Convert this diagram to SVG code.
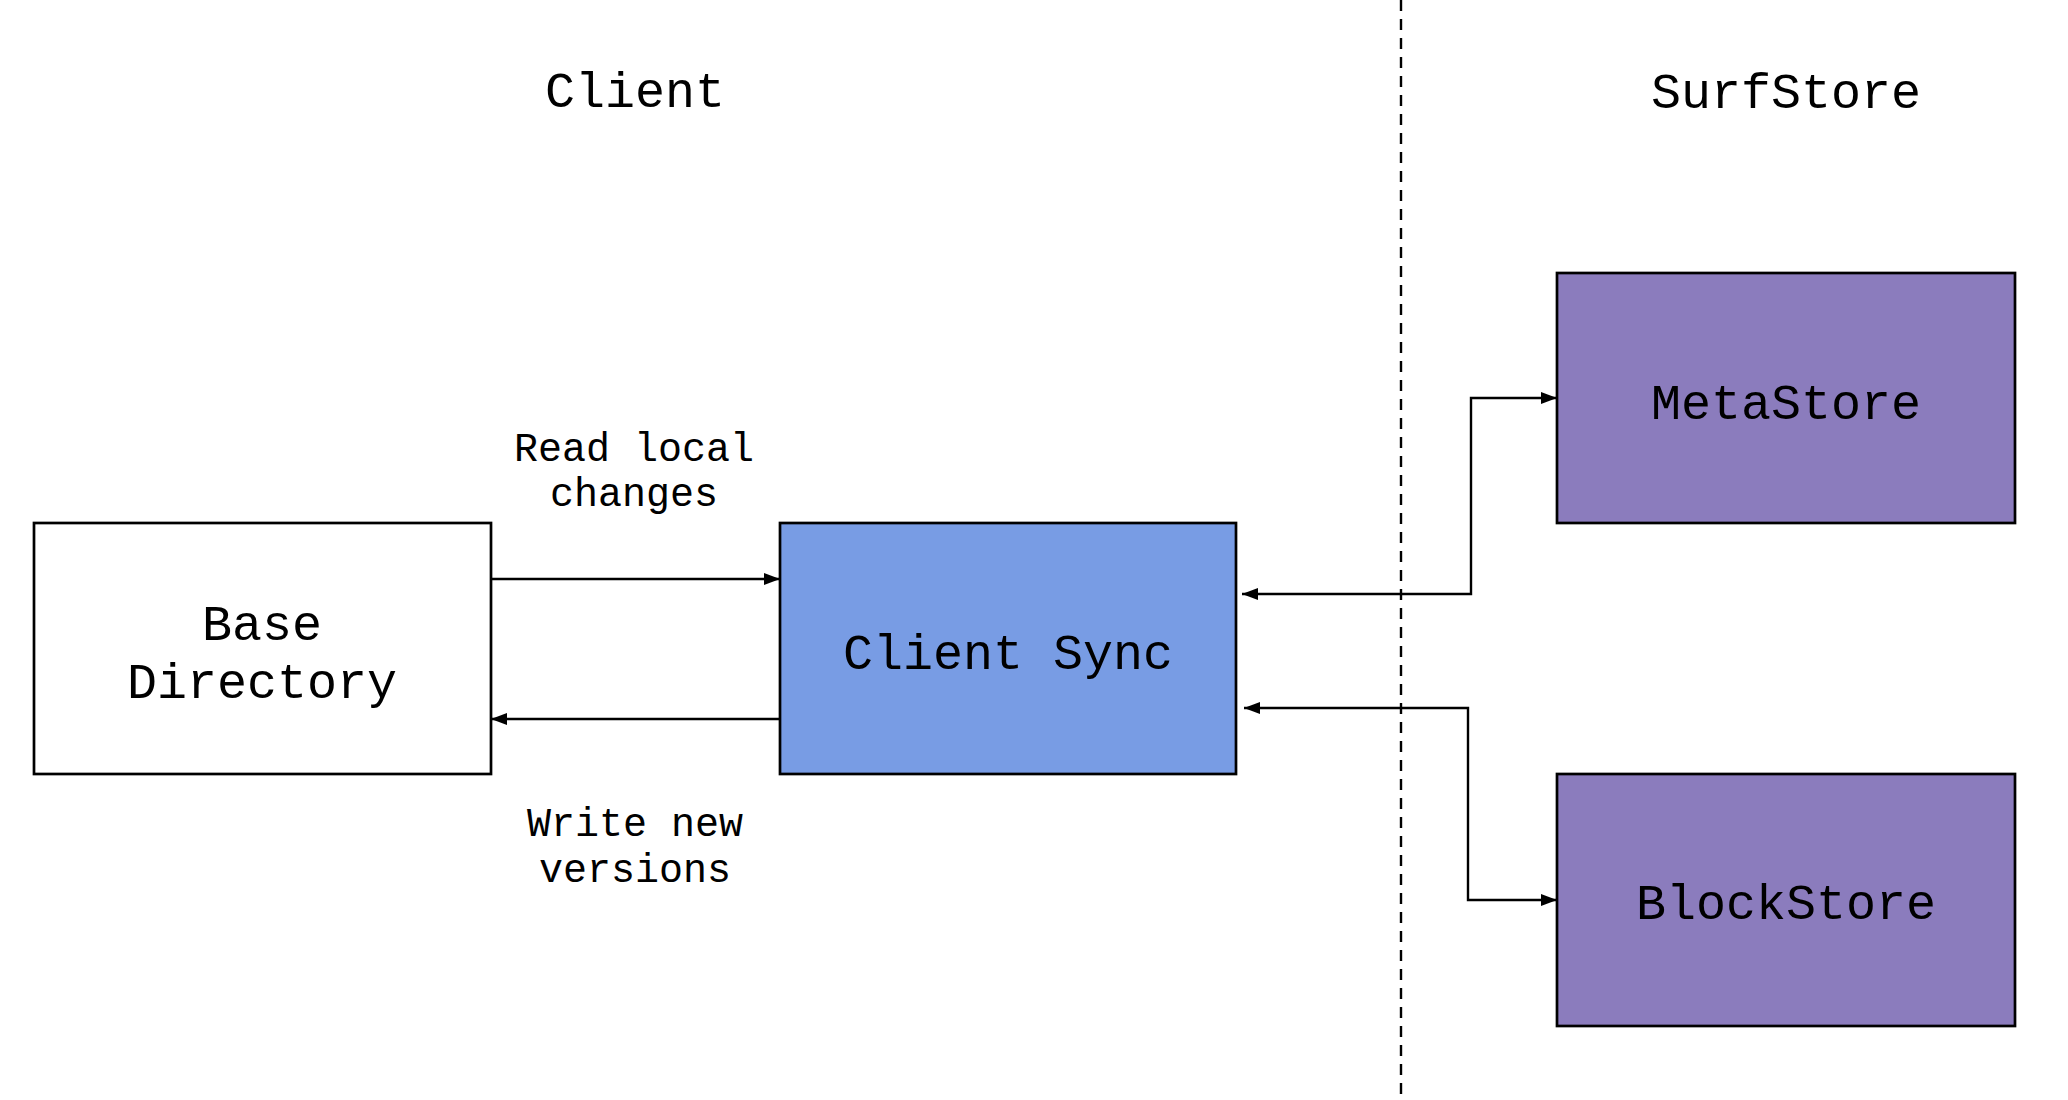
<svg xmlns="http://www.w3.org/2000/svg" width="2068" height="1100" viewBox="0 0 2068 1100">
  <style>
    .box { stroke: #000000; stroke-width: 2.7; }
    .t { font-family: "Liberation Mono", "Courier New", monospace; fill: #000000; text-anchor: middle; }
    .big { font-size: 50px; }
    .small { font-size: 40px; }
    .conn { fill: none; stroke: #000000; stroke-width: 2.4; }
  </style>
  <defs>
    <marker id="arrow" markerUnits="userSpaceOnUse" markerWidth="16" markerHeight="14" viewBox="0 0 16 14" refX="16" refY="7" orient="auto-start-reverse">
      <path d="M0,1 L16,7 L0,13 Z" fill="#000000"/>
    </marker>
  </defs>
  <rect x="0" y="0" width="2068" height="1100" fill="#ffffff"/>

  <g id="divider">
    <line x1="1401" y1="0" x2="1401" y2="1100" stroke="#000000" stroke-width="2.4" stroke-dasharray="11,8"/>
  </g>

  <g id="title-client">
    <text class="t big" x="635" y="107">Client</text>
  </g>
  <g id="title-surfstore">
    <text class="t big" x="1786" y="108">SurfStore</text>
  </g>

  <g id="base-directory">
    <rect class="box" x="34" y="523" width="457" height="251" fill="#ffffff"/>
    <text class="t big" x="262" y="640">Base</text>
    <text class="t big" x="262" y="698">Directory</text>
  </g>

  <g id="client-sync">
    <rect class="box" x="780" y="523" width="456" height="251" fill="#789ce4"/>
    <text class="t big" x="1008" y="669">Client Sync</text>
  </g>

  <g id="metastore">
    <rect class="box" x="1557" y="273" width="458" height="250" fill="#8b7cbd"/>
    <text class="t big" x="1786" y="419">MetaStore</text>
  </g>

  <g id="blockstore">
    <rect class="box" x="1557" y="774" width="458" height="252" fill="#8b7cbd"/>
    <text class="t big" x="1786" y="919">BlockStore</text>
  </g>

  <g id="connectors">
    <line class="conn" x1="491" y1="579" x2="780" y2="579" marker-end="url(#arrow)"/>
    <line class="conn" x1="780" y1="719" x2="491" y2="719" marker-end="url(#arrow)"/>
    <polyline class="conn" points="1242,594 1471,594 1471,398 1557,398" marker-start="url(#arrow)" marker-end="url(#arrow)"/>
    <polyline class="conn" points="1244,708 1468,708 1468,900 1557,900" marker-start="url(#arrow)" marker-end="url(#arrow)"/>
  </g>

  <g id="labels">
    <text class="t small" x="634" y="461">Read local</text>
    <text class="t small" x="634" y="506">changes</text>
    <text class="t small" x="635" y="836">Write new</text>
    <text class="t small" x="635" y="882">versions</text>
  </g>
</svg>
